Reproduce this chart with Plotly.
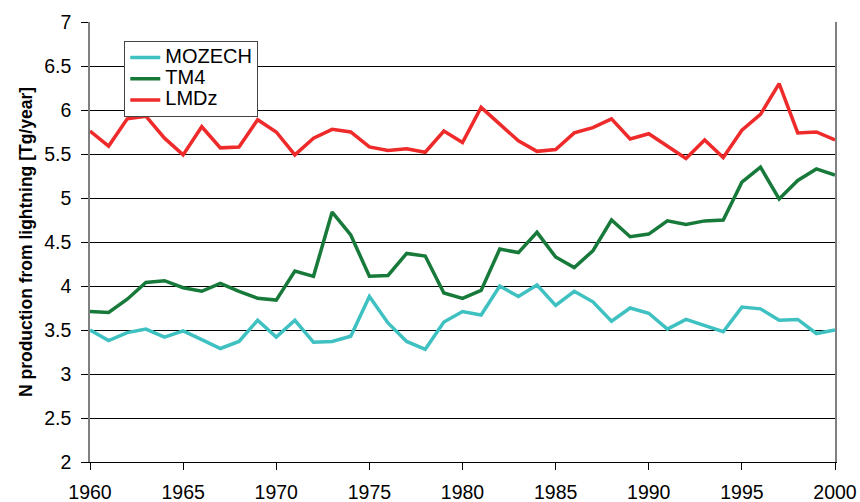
import plotly.graph_objects as go

years = list(range(1960, 2001))
mozech = [3.50, 3.38, 3.47, 3.51, 3.42, 3.49, 3.39, 3.29, 3.37, 3.61,
          3.42, 3.61, 3.36, 3.37, 3.43, 3.88, 3.58, 3.37, 3.28, 3.59,
          3.71, 3.67, 4.00, 3.88, 4.01, 3.78, 3.94, 3.82, 3.60, 3.75,
          3.69, 3.51, 3.62, 3.55, 3.48, 3.76, 3.74, 3.61, 3.62, 3.46, 3.50]
tm4 = [3.71, 3.70, 3.85, 4.04, 4.06, 3.98, 3.94, 4.03, 3.94, 3.86,
       3.84, 4.17, 4.11, 4.84, 4.58, 4.11, 4.12, 4.37, 4.34, 3.92,
       3.86, 3.95, 4.42, 4.38, 4.61, 4.33, 4.21, 4.40, 4.75, 4.56,
       4.59, 4.74, 4.70, 4.74, 4.75, 5.18, 5.35, 4.99, 5.20, 5.33, 5.26]
lmdz = [5.76, 5.59, 5.90, 5.93, 5.68, 5.49, 5.81, 5.57, 5.58, 5.89,
        5.75, 5.49, 5.68, 5.78, 5.75, 5.58, 5.54, 5.56, 5.52, 5.76,
        5.63, 6.03, 5.84, 5.65, 5.53, 5.55, 5.74, 5.80, 5.90, 5.67,
        5.73, 5.59, 5.45, 5.66, 5.46, 5.77, 5.95, 6.30, 5.74, 5.75, 5.66]

series = [("MOZECH", mozech, "#3fc1c1"),
          ("TM4", tm4, "#177a3a"),
          ("LMDz", lmdz, "#ee2a2a")]

fig = go.Figure()
for name, vals, col in series:
    fig.add_trace(go.Scatter(x=years, y=vals, mode="lines",
                             name='<span style="font-size:20px">' + name + '</span>',
                             line=dict(color=col, width=3.5)))

font = "Liberation Sans, Arial, sans-serif"
fig.update_layout(
    width=860, height=502,
    margin=dict(l=90, r=25, t=22, b=40, autoexpand=False),
    paper_bgcolor="white", plot_bgcolor="white",
    font=dict(family=font, size=19.5, color="black"),
    showlegend=True,
    legend=dict(x=0.046, y=0.957, xanchor="left", yanchor="top",
                bgcolor="white", bordercolor="#444444", borderwidth=1,
                font=dict(size=14), itemwidth=30,
                tracegroupgap=0),
    xaxis=dict(range=[1960, 2000], tickmode="linear", tick0=1960, dtick=5,
               showgrid=False, ticks="outside", ticklen=7, tickcolor="black",
               showline=True, linecolor="black", linewidth=1, mirror=False,
               zeroline=False, tickfont=dict(size=19.5), automargin=False,
               ticklabelstandoff=6),
    yaxis=dict(range=[2, 7], tickmode="linear", tick0=2, dtick=0.5,
               showgrid=True, gridcolor="black", gridwidth=1,
               ticks="outside", ticklen=7, tickcolor="black",
               showline=True, linecolor="#808080", linewidth=1.5, mirror=True,
               zeroline=False, tickfont=dict(size=19.5), automargin=False,
               ticklabelstandoff=6,
               title=dict(text="<b>N production from lightning [Tg/year]</b>",
                          font=dict(size=17.5), standoff=7)),
)

fig.write_html("out.html", config={"displayModeBar": False},
               post_script="document.body.style.margin='0';document.body.style.overflow='hidden';")
